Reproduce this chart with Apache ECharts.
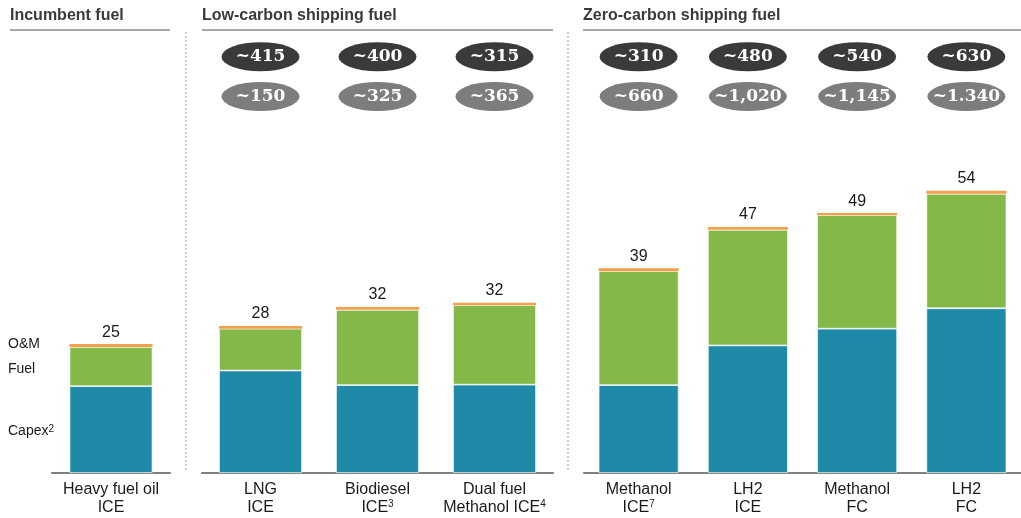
<!DOCTYPE html>
<html>
<head>
    <meta charset="utf-8">
    <title>Shipping fuel cost comparison</title>
    <script type="text/javascript" src="https://cdn.jsdelivr.net/npm/echarts@6/dist/echarts.min.js"></script>
    <style>
        html, body { margin: 0; padding: 0; background: #fff; }
        #chart { width: 1021px; height: 518px; }
    </style>
</head>
<body>
<div id="chart"></div>

<script type="text/javascript">
    // data
    var categories = ['Heavy fuel oil\nICE', 'LNG\nICE', 'Biodiesel\nICE³', 'Dual fuel\nMethanol ICE⁴',
                      'Methanol\nICE⁷', 'LH2\nICE', 'Methanol\nFC', 'LH2\nFC'];
    var capex  = [16.6, 19.6, 16.8, 16.9, 16.8, 24.4, 27.6, 31.5];
    var fuel   = [7.5, 8.0, 14.4, 15.2, 21.8, 22.1, 21.7, 21.9];
    var om     = [0.55, 0.5, 0.55, 0.45, 0.55, 0.55, 0.4, 0.55];
    var totals = [25, 28, 32, 32, 39, 47, 49, 54];
    var bubbleTop    = [null, '~415', '~400', '~315', '~310', '~480', '~540', '~630'];
    var bubbleBottom = [null, '~150', '~325', '~365', '~660', '~1,020', '~1,145', '~1.340'];
    var groupTitles = ['Incumbent fuel', 'Low-carbon shipping fuel', 'Zero-carbon shipping fuel'];
    var groupSizes  = [1, 3, 4];
    var seriesNames = ['Capex²', 'Fuel', 'O&M'];

    var font = 'Liberation Sans, Arial, sans-serif';
    var colors = { capex: '#1e8aa7', fuel: '#84b848', om: '#f5a04a' };
    var YMAX = 85;
    var BUBBLE_Y1 = 79.6, BUBBLE_Y2 = 72.0;

    // layout of the three panels
    var grids = [
        { left: 52,  width: 118, top: 28.5, bottom: 45 },
        { left: 202, width: 351, top: 28.5, bottom: 45 },
        { left: 584, width: 445, top: 28.5, bottom: 45 }
    ];
    var barWidths = [83, 83, 80];
    var headerX = [10, 202, 583];
    var headerEnd = [170, 553, 1021];
    var dividerX = [186, 568];
    var sideNudge = [2, 3, 0];

    // turn unicode superscript digits into rich-text tokens
    var supMap = { '²': '2', '³': '3', '⁴': '4', '⁷': '7' };
    function sup(s) {
        return s.replace(/[²³⁴⁷]/g, function (c) { return '{sup|' + supMap[c] + '}'; });
    }

    var myChart = echarts.init(document.getElementById('chart'));

    var xAxes = [], yAxes = [], series = [];
    var start = 0;
    groupSizes.forEach(function (n, g) {
        var idx = [];
        for (var i = start; i < start + n; i++) idx.push(i);
        var off = start;

        xAxes.push({
            type: 'category', gridIndex: g,
            data: idx.map(function (i) { return categories[i]; }),
            axisLine: { lineStyle: { color: '#808080', width: 2 } },
            axisTick: { show: false },
            axisLabel: {
                color: '#1a1a1a', fontSize: 16, fontFamily: font, lineHeight: 18, margin: 8, interval: 0,
                formatter: function (v) { return sup(v); },
                rich: { sup: { fontSize: 10, fontFamily: font, color: '#1a1a1a', verticalAlign: 'top', lineHeight: 18 } }
            }
        });
        yAxes.push({ type: 'value', gridIndex: g, min: 0, max: YMAX, show: false, splitLine: { show: false } });

        var seg = function (name, arr, color, border) {
            return {
                type: 'bar', name: name, xAxisIndex: g, yAxisIndex: g, stack: 'g' + g,
                barWidth: barWidths[g], silent: true,
                itemStyle: { color: color, borderColor: 'rgba(255,255,255,0.85)', borderWidth: border },
                data: idx.map(function (i) { return arr[i]; })
            };
        };
        series.push(seg('Capex', capex, colors.capex, 0.8));
        series.push(seg('Fuel', fuel, colors.fuel, 0.8));
        var omSeries = seg('O&M', om, colors.om, 0);
        omSeries.label = {
            show: true, position: 'top', distance: 4, color: '#1a1a1a', fontSize: 16, fontFamily: font,
            formatter: function (p) { return totals[off + p.dataIndex]; }
        };
        series.push(omSeries);

        [[bubbleTop, BUBBLE_Y1, '#3a3a3a'], [bubbleBottom, BUBBLE_Y2, '#7d7d7d']].forEach(function (row) {
            var pts = [];
            idx.forEach(function (i, k) {
                if (row[0][i]) pts.push({ value: [k, row[1]], name: row[0][i] });
            });
            if (!pts.length) return;
            series.push({
                type: 'scatter', xAxisIndex: g, yAxisIndex: g, silent: true, clip: false,
                symbol: 'circle', symbolSize: [78, 29],
                itemStyle: { color: row[2], opacity: 1 },
                label: {
                    show: true, position: 'inside', formatter: '{b}', color: '#fff',
                    fontFamily: 'DejaVu Serif, serif', fontWeight: 'bold', fontSize: 17,
                    padding: [3, 0, 0, 0]
                },
                data: pts
            });
        });
        start += n;
    });

    var graphic = [];
    groupTitles.forEach(function (t, g) {
        graphic.push({
            type: 'text', left: headerX[g], top: 8,
            style: { text: t, fill: '#3a3a3a', font: 'bold 16px ' + font }
        });
        graphic.push({
            type: 'line', shape: { x1: headerX[g], y1: 30, x2: headerEnd[g], y2: 30 },
            style: { stroke: '#8a8a8a', lineWidth: 1.5 }
        });
    });
    dividerX.forEach(function (x) {
        graphic.push({
            type: 'line', shape: { x1: x, y1: 32, x2: x, y2: 471 },
            style: { stroke: '#a0a0a0', lineWidth: 1, lineDash: [2, 2] }
        });
    });

    var option = {
        backgroundColor: '#fff',
        animation: false,
        grid: grids,
        xAxis: xAxes,
        yAxis: yAxes,
        series: series,
        graphic: graphic
    };
    myChart.setOption(option);

    // side labels next to the first bar, placed at the segment middles
    var yOf = function (v) { return myChart.convertToPixel({ gridIndex: 0 }, [0, v])[1]; };
    var sideY = [yOf(capex[0] / 2), yOf(capex[0] + fuel[0] / 2), yOf(capex[0] + fuel[0] + om[0])];
    myChart.setOption({
        graphic: graphic.concat(seriesNames.map(function (name, k) {
            return {
                type: 'text', left: 8, top: sideY[k] - 7 + sideNudge[k],
                style: {
                    text: sup(name), fill: '#1a1a1a', fontSize: 14, fontFamily: font,
                    rich: { sup: { fontSize: 10, fontFamily: font, fill: '#1a1a1a', verticalAlign: 'top' } }
                }
            };
        }))
    });
</script>

</body>
</html>
